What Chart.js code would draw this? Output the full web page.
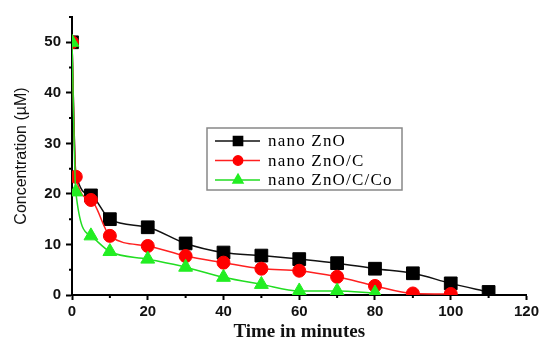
<!DOCTYPE html>
<html>
    <head>
        <title>Concentration vs time</title>
        <style>
            body { margin: 0; background: #fff; }
        </style>
    </head>
    <body>
        <canvas id="chartCanvas" width="542" height="341"></canvas>

        <script src="https://cdn.jsdelivr.net/npm/chart.js@4/dist/chart.umd.min.js"></script>
        <script>
        // time in minutes
        var timeZnO = [0, 1, 5, 10, 20, 30, 40, 50, 60, 70, 80, 90, 100, 110];
        var timeZnOC = [0, 1, 5, 10, 20, 30, 40, 50, 60, 70, 80, 90, 100];
        var timeZnOCCo = [0, 1, 5, 10, 20, 30, 40, 50, 60, 70, 80];

        // concentration (uM)
        var concZnO = [50, 24.2, 19.7, 15, 13.4, 10.2, 8.4, 7.8, 7.1, 6.3, 5.2, 4.3, 2.3, 0.6];
        var concZnOC = [50, 23.4, 18.8, 11.7, 9.7, 7.7, 6.4, 5.2, 4.8, 3.6, 1.8, 0.3, 0.2];
        var concZnOCCo = [50, 20.4, 11.7, 8.6, 7.1, 5.5, 3.5, 2.1, 0.8, 0.8, 0.4];

        var seriesNames = ["nano ZnO", "nano ZnO/C", "nano ZnO/C/Co"];

        var xMajor = 20, xMinor = 10;
        var yMajor = 10, yMinor = 5;

        var toPoints = function(xs, ys) {
            return xs.map(function(x, i) { return {x: x, y: ys[i]}; });
        };

        // minor ticks are drawn short, majors are drawn by the scale itself
        var minorTicks = {
            id: "minorTicks",
            afterDraw: function(chart) {
                var ctx = chart.ctx;
                var xs = chart.scales.x, ys = chart.scales.y;
                ctx.save();
                ctx.strokeStyle = "#000";
                ctx.lineWidth = 2;
                ctx.beginPath();
                xs.ticks.forEach(function(t) {
                    if (t.value % xMajor !== 0) {
                        var px = xs.getPixelForValue(t.value);
                        ctx.moveTo(px, xs.top);
                        ctx.lineTo(px, xs.top + 3);
                    }
                });
                ys.ticks.forEach(function(t) {
                    if (t.value % yMajor !== 0) {
                        var py = ys.getPixelForValue(t.value);
                        ctx.moveTo(ys.right, py);
                        ctx.lineTo(ys.right - 3, py);
                    }
                });
                ctx.stroke();
                ctx.restore();
            }
        };

        // boxed legend with line-through markers
        var boxLegend = {
            id: "boxLegend",
            afterDraw: function(chart) {
                var ctx = chart.ctx;
                var bx = 207, by = 128, bw = 195, bh = 62;
                ctx.save();
                ctx.strokeStyle = "#888";
                ctx.lineWidth = 1.5;
                ctx.strokeRect(bx, by, bw, bh);
                ctx.font = "17px 'Liberation Serif', 'Times New Roman', serif";
                ctx.letterSpacing = "1.2px";
                ctx.textBaseline = "middle";
                chart.data.datasets.forEach(function(ds, i) {
                    var y = by + 13 + i * 19.5;
                    ctx.strokeStyle = ds.borderColor;
                    ctx.lineWidth = 1.5;
                    ctx.beginPath();
                    ctx.moveTo(bx + 8, y);
                    ctx.lineTo(bx + 53, y);
                    ctx.stroke();
                    ctx.fillStyle = ds.pointBackgroundColor;
                    ctx.strokeStyle = ds.pointBackgroundColor;
                    Chart.helpers.drawPoint(ctx, {
                        pointStyle: ds.pointStyle,
                        radius: ds.markerSize * 0.72,
                        borderWidth: 1,
                        rotation: 0
                    }, bx + 31, y);
                    ctx.fillStyle = "#000";
                    ctx.fillText(ds.label, bx + 61, y + 1);
                });
                ctx.restore();
            }
        };

        var ctx = document.getElementById("chartCanvas").getContext("2d");
        new Chart(ctx, {
            type: "scatter",
            data: {
                datasets: [{
                    label: seriesNames[0],
                    data: toPoints(timeZnO, concZnO),
                    borderColor: "#111",
                    pointBackgroundColor: "#000",
                    pointBorderColor: "#000",
                    pointStyle: "rect",
                    markerSize: 9,
                    // the square at t=1 sits hidden under the other markers
                    pointRadius: function(c) { return c.dataIndex === 1 ? 0 : 9; },
                    order: 3
                }, {
                    label: seriesNames[1],
                    data: toPoints(timeZnOC, concZnOC),
                    borderColor: "#ff2020",
                    pointBackgroundColor: "#ff0000",
                    pointBorderColor: "#ff0000",
                    pointStyle: "circle",
                    markerSize: 6.5,
                    pointRadius: 6.5,
                    order: 2
                }, {
                    label: seriesNames[2],
                    data: toPoints(timeZnOCCo, concZnOCCo),
                    borderColor: "#22dd22",
                    pointBackgroundColor: "#22ee22",
                    pointBorderColor: "#22ee22",
                    pointStyle: "triangle",
                    markerSize: 8,
                    pointRadius: 8,
                    order: 1
                }]
            },
            options: {
                responsive: false,
                animation: false,
                showLine: true,
                layout: { padding: { top: 17, right: 12, left: 0, bottom: 0 } },
                elements: {
                    line: { borderWidth: 1.5, cubicInterpolationMode: "monotone", fill: false },
                    point: { borderWidth: 1, hoverRadius: 6 }
                },
                plugins: {
                    legend: { display: false },
                    tooltip: { enabled: false }
                },
                scales: {
                    x: {
                        type: "linear",
                        min: 0,
                        max: 120,
                        afterFit: function(s) { s.height = 46; },
                        border: { display: true, color: "#000", width: 2 },
                        grid: {
                            drawOnChartArea: false,
                            drawTicks: true,
                            tickLength: 5,
                            tickWidth: 2,
                            tickColor: function(c) {
                                return c.tick && c.tick.value % xMajor === 0 ? "#000" : "transparent";
                            }
                        },
                        ticks: {
                            stepSize: xMinor,
                            padding: 3,
                            color: "#111",
                            font: { family: "'Liberation Sans', Arial, sans-serif", size: 15, weight: "bold" },
                            maxRotation: 0,
                            callback: function(v) { return v % xMajor === 0 ? v : ""; }
                        },
                        title: {
                            display: true,
                            text: "Time in minutes",
                            color: "#111",
                            font: { family: "'Liberation Serif', 'Times New Roman', serif", size: 19, weight: "bold", lineHeight: 0.9 },
                            padding: { top: 0, bottom: 0 }
                        }
                    },
                    y: {
                        min: 0,
                        max: 55,
                        afterFit: function(s) { s.width = 72; },
                        border: { display: true, color: "#000", width: 2 },
                        grid: {
                            drawOnChartArea: false,
                            drawTicks: true,
                            tickLength: 6,
                            tickWidth: 2,
                            tickColor: function(c) {
                                return c.tick && c.tick.value % yMajor === 0 ? "#000" : "transparent";
                            }
                        },
                        ticks: {
                            stepSize: yMinor,
                            padding: 5,
                            color: "#111",
                            font: { family: "'Liberation Sans', Arial, sans-serif", size: 15, weight: "bold" },
                            callback: function(v) { return v % yMajor === 0 ? v : ""; }
                        },
                        title: {
                            display: true,
                            text: "Concentration (µM)",
                            color: "#111",
                            font: { family: "'Liberation Sans', Arial, sans-serif", size: 16 },
                            padding: { top: 12, bottom: 0 }
                        }
                    }
                }
            },
            plugins: [minorTicks, boxLegend]
        });
        </script>
    </body>
</html>
